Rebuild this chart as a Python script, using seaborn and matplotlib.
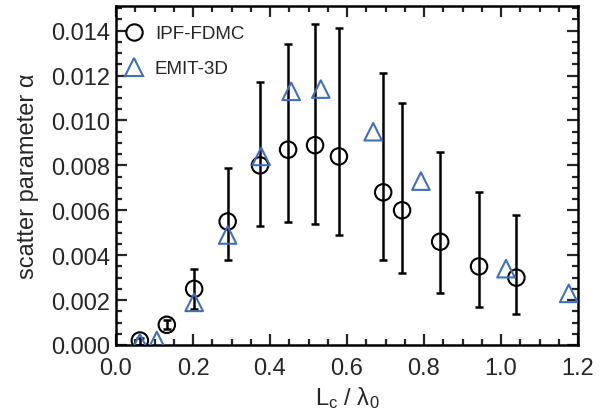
import matplotlib
matplotlib.use('Agg')
import matplotlib.pyplot as plt
from matplotlib.ticker import MultipleLocator, FormatStrFormatter
from matplotlib.lines import Line2D
import seaborn as sns
import pandas as pd
import numpy as np

# IPF-FDMC (circles, with asymmetric error bars)
ipf_x = [0.062, 0.132, 0.203, 0.290, 0.374, 0.447, 0.517, 0.579, 0.694, 0.743, 0.842, 0.943, 1.040]
ipf_y = [0.0002, 0.0009, 0.0025, 0.0055, 0.0080, 0.0087, 0.0089, 0.0084, 0.0068, 0.0060, 0.0046, 0.0035, 0.0030]
ipf_lo = [0.0000, 0.0007, 0.0016, 0.0038, 0.0053, 0.0055, 0.0054, 0.0049, 0.0038, 0.0032, 0.0023, 0.0017, 0.0014]
ipf_hi = [0.0003, 0.0011, 0.0034, 0.0079, 0.0117, 0.0134, 0.0143, 0.0141, 0.0121, 0.0108, 0.0086, 0.0068, 0.0058]

# EMIT-3D (triangles)
emit_x = [0.062, 0.106, 0.203, 0.290, 0.377, 0.455, 0.532, 0.668, 0.792, 1.013, 1.176]
emit_y = [0.0001, 0.0002, 0.0019, 0.0049, 0.0084, 0.0113, 0.0114, 0.0095, 0.0073, 0.0034, 0.0023]

blue = '#3f6fbf'
FS = 17

sns.set_theme(style="ticks")
plt.rcParams['font.family'] = ['Liberation Sans', 'DejaVu Sans']
plt.rcParams['mathtext.fontset'] = 'custom'
plt.rcParams['mathtext.rm'] = 'Liberation Sans'
plt.rcParams['mathtext.it'] = 'Liberation Sans'

df_ipf = pd.DataFrame({'x': ipf_x, 'y': ipf_y, 'lo': ipf_lo, 'hi': ipf_hi})
df_emit = pd.DataFrame({'x': emit_x, 'y': emit_y})

fig = plt.figure(figsize=(6.08, 4.10), dpi=100)
ax = fig.add_axes([116 / 608, 1 - 346 / 410, (578 - 116) / 608, (346 - 7) / 410])

yerr = np.array([df_ipf['y'] - df_ipf['lo'], df_ipf['hi'] - df_ipf['y']])
ax.errorbar(df_ipf['x'], df_ipf['y'], yerr=yerr, fmt='none', ecolor='black',
            elinewidth=1.8, capsize=2.6, capthick=1.8, zorder=2)

sns.scatterplot(data=df_ipf, x='x', y='y', ax=ax, marker='o', s=140,
                facecolors='none', edgecolor='black', linewidth=1.5, zorder=3)
sns.scatterplot(data=df_emit, x='x', y='y', ax=ax, marker='^', s=160,
                facecolors='none', edgecolor=blue, linewidth=1.5, zorder=3)

ax.set_xlim(0, 1.2)
ax.set_ylim(0, 0.0151)
ax.xaxis.set_major_locator(MultipleLocator(0.2))
ax.xaxis.set_minor_locator(MultipleLocator(0.05))
ax.yaxis.set_major_locator(MultipleLocator(0.002))
ax.yaxis.set_minor_locator(MultipleLocator(0.0005))
ax.xaxis.set_major_formatter(FormatStrFormatter('%.1f'))
ax.yaxis.set_major_formatter(FormatStrFormatter('%.3f'))
ax.tick_params(which='both', direction='in', top=True, right=True, width=1.6, labelsize=FS)
ax.tick_params(axis='x', pad=9)
ax.tick_params(axis='y', pad=4)
ax.tick_params(which='major', length=8)
ax.tick_params(which='minor', length=4)
for s in ax.spines.values():
    s.set_linewidth(1.8)
    s.set_color('black')

ax.set_xlabel('L$_\\mathregular{c}$ / λ$_\\mathregular{0}$', fontsize=FS, labelpad=3)
ax.set_ylabel('scatter parameter α', fontsize=FS, labelpad=9)

handles = [
    Line2D([], [], marker='o', linestyle='none', markersize=11.8, markerfacecolor='none',
           markeredgecolor='black', markeredgewidth=1.5),
    Line2D([], [], marker='^', linestyle='none', markersize=12.5, markerfacecolor='none',
           markeredgecolor=blue, markeredgewidth=1.5),
]
ax.legend(handles, ['IPF-FDMC', 'EMIT-3D'], loc='upper left', frameon=False,
          fontsize=13.5, handletextpad=0.6, borderaxespad=0.0, labelspacing=0.95,
          handlelength=1.0, bbox_to_anchor=(0.003, 0.965))

fig.savefig('out.png', dpi=100)
